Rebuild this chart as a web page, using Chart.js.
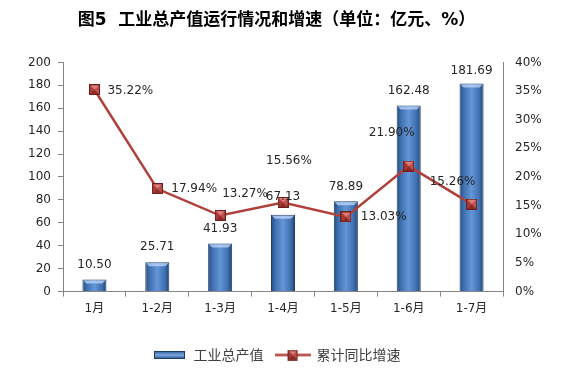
<!DOCTYPE html>
<html>
<head>
<meta charset="utf-8">
<script src="https://cdn.jsdelivr.net/npm/chart.js@4.4.0/dist/chart.umd.min.js"></script>
<style>
  body { margin: 0; background: #fff; }
  #wrap { width: 573px; height: 378px; }
</style>
</head>
<body>
<div id="wrap"><canvas id="myChart" width="573" height="378"></canvas></div>
<script>
'use strict';

// ************ DATA
let months = ['1月', '1-2月', '1-3月', '1-4月', '1-5月', '1-6月', '1-7月'];
let outputValues = [10.50, 25.71, 41.93, 67.13, 78.89, 162.48, 181.69]; // 工业总产值, 亿元
let growthRates = [35.22, 17.94, 13.27, 15.56, 13.03, 21.90, 15.26];   // 累计同比增速, %
let leftTicks = [0, 20, 40, 60, 80, 100, 120, 140, 160, 180, 200];
let rightTicks = [0, 5, 10, 15, 20, 25, 30, 35, 40];

// label placement tweaks (pixels) - the original chart nudged some labels by hand
let barLabelGap = [15, 15, 15, 18, 14, 15, 13];
let lineLabelOffsets = [
  [13, 1, 'left'],
  [14, 0, 'left'],
  [2, -22, 'left'],
  [6, -42, 'center'],
  [15, 0, 'left'],
  [-17, -33, 'center'],
  [-19, -22, 'center']
];

const numFont = "'DejaVu Sans', 'Noto Sans CJK SC', sans-serif";
const cjkFont = "'Noto Sans CJK SC', sans-serif";
const axisGrey = '#868686';
const textColor = '#262626';

const barPct = 0.45;
const catPct = 0.85;

// ************ LITTLE CANVASES FOR MARKERS / LEGEND KEYS

function drawMarker(c, cx, cy, s) {
  let h = s / 2;
  c.fillStyle = '#C0504D';
  c.fillRect(cx - h, cy - h, s, s);
  // pyramid-ish shading
  c.fillStyle = '#E07E79';
  c.beginPath(); c.moveTo(cx - h, cy - h); c.lineTo(cx + h, cy - h); c.lineTo(cx, cy); c.closePath(); c.fill();
  c.fillStyle = '#8E2A26';
  c.beginPath(); c.moveTo(cx - h, cy + h); c.lineTo(cx + h, cy + h); c.lineTo(cx, cy); c.closePath(); c.fill();
  c.fillStyle = '#A53A36';
  c.beginPath(); c.moveTo(cx - h, cy - h); c.lineTo(cx - h, cy + h); c.lineTo(cx, cy); c.closePath(); c.fill();
  c.strokeStyle = '#6E1F1C';
  c.lineWidth = 1;
  c.strokeRect(cx - h + 0.5, cy - h + 0.5, s - 1, s - 1);
}

let markerImg = document.createElement('canvas');
markerImg.width = 11;
markerImg.height = 11;
drawMarker(markerImg.getContext('2d'), 5.5, 5.5, 11);

let barKey = document.createElement('canvas');
barKey.width = 31;
barKey.height = 8;
(function () {
  let c = barKey.getContext('2d');
  let g = c.createLinearGradient(0, 0, 0, 8);
  g.addColorStop(0, '#2C5A92');
  g.addColorStop(0.5, '#79A7E2');
  g.addColorStop(1, '#274F82');
  c.fillStyle = g;
  c.fillRect(0, 0, 31, 8);
  c.strokeStyle = '#1D3C66';
  c.strokeRect(0.5, 0.5, 30, 7);
})();

let lineKey = document.createElement('canvas');
lineKey.width = 36;
lineKey.height = 11;
(function () {
  let c = lineKey.getContext('2d');
  c.strokeStyle = '#B0403B';
  c.lineWidth = 2.5;
  c.beginPath(); c.moveTo(0, 5.5); c.lineTo(36, 5.5); c.stroke();
  drawMarker(c, 18, 5.5, 10);
})();

// ************ PLUGINS

// value labels over bars and next to the points
const valueLabels = {
  id: 'valueLabels',
  afterDatasetsDraw(chart) {
    let ctx = chart.ctx;
    ctx.save();
    ctx.font = '12px ' + numFont;
    ctx.fillStyle = textColor;
    ctx.textBaseline = 'middle';
    let barMeta = chart.getDatasetMeta(1);
    barMeta.data.forEach(function (bar, i) {
      ctx.textAlign = 'center';
      ctx.fillText(outputValues[i].toFixed(2), bar.x, bar.y - barLabelGap[i]);
    });
    let lineMeta = chart.getDatasetMeta(0);
    lineMeta.data.forEach(function (pt, i) {
      let o = lineLabelOffsets[i];
      ctx.textAlign = o[2];
      ctx.fillText(growthRates[i].toFixed(2) + '%', pt.x + o[0], pt.y + o[1]);
    });
    ctx.restore();
  }
};

// light cap on top of each bar
const barCaps = {
  id: 'barCaps',
  afterDatasetDraw(chart, args) {
    if (args.index !== 1) return;
    let ctx = chart.ctx;
    ctx.save();
    args.meta.data.forEach(function (bar) {
      let w = bar.width;
      ctx.fillStyle = 'rgba(190, 215, 250, 0.75)';
      ctx.beginPath();
      ctx.moveTo(bar.x - w / 2 + 1, bar.y + 1);
      ctx.lineTo(bar.x + w / 2 - 1, bar.y + 1);
      ctx.lineTo(bar.x + w / 2 - 4, bar.y + 4);
      ctx.lineTo(bar.x - w / 2 + 4, bar.y + 4);
      ctx.closePath();
      ctx.fill();
    });
    ctx.restore();
  }
};

function barGradient(context) {
  let chart = context.chart;
  if (!chart.chartArea) return '#4F81BD';
  let xScale = chart.scales.x;
  let x = xScale.getPixelForValue(context.dataIndex);
  let half = xScale.width / months.length * barPct * catPct / 2;
  let g = chart.ctx.createLinearGradient(x - half, 0, x + half, 0);
  g.addColorStop(0, '#244C80');
  g.addColorStop(0.18, '#3F70B0');
  g.addColorStop(0.5, '#6495D6');
  g.addColorStop(0.82, '#3F70B0');
  g.addColorStop(1, '#1F4270');
  return g;
}

// ************ CHART

const ctx = document.getElementById('myChart').getContext('2d');

const chartObj = {
  data: {
    labels: months,
    datasets: [
      {
        type: 'line',
        label: '累计同比增速',
        data: growthRates,
        yAxisID: 'y2',
        borderColor: '#B0403B',
        borderWidth: 2.5,
        pointStyle: markerImg,
        order: 0
      },
      {
        type: 'bar',
        label: '工业总产值',
        data: outputValues,
        yAxisID: 'y',
        backgroundColor: barGradient,
        borderColor: '#1F3D66',
        borderWidth: 1,
        barPercentage: barPct,
        categoryPercentage: catPct,
        order: 1
      }
    ]
  },
  options: {
    responsive: false,
    animation: false,
    layout: { padding: { left: 0, right: 20, top: 0, bottom: 6 } },
    plugins: {
      title: {
        display: true,
        text: '图5  工业总产值运行情况和增速（单位：亿元、%）',
        color: '#000',
        font: { family: numFont, size: 17, weight: 'bold' },
        padding: { top: 10, bottom: 32 }
      },
      legend: {
        position: 'bottom',
        labels: {
          usePointStyle: true,
          pointStyleWidth: 34,
          boxHeight: 11,
          padding: 12,
          color: '#404040',
          font: { family: cjkFont, size: 14 },
          generateLabels: function (chart) {
            return [
              { text: '工业总产值', pointStyle: barKey, datasetIndex: 1, fontColor: '#404040', lineWidth: 0, fillStyle: '#4F81BD', strokeStyle: '#4F81BD' },
              { text: '累计同比增速', pointStyle: lineKey, datasetIndex: 0, fontColor: '#404040', lineWidth: 0, fillStyle: '#C0504D', strokeStyle: '#C0504D' }
            ];
          }
        }
      },
      tooltip: { enabled: false }
    },
    scales: {
      x: {
        afterFit: function (scale) { scale.height += 15; },
        grid: { offset: true, drawOnChartArea: false, drawTicks: true, tickLength: 5, color: axisGrey },
        border: { color: axisGrey },
        ticks: { color: textColor, padding: 5, font: { family: numFont, size: 12 } }
      },
      y: {
        position: 'left',
        min: 0,
        max: 200,
        afterBuildTicks: function (scale) {
          scale.ticks = leftTicks.map(function (v) { return { value: v }; });
        },
        afterFit: function (scale) { scale.width = 63; },
        grid: { drawOnChartArea: false, drawTicks: true, tickLength: 5, color: axisGrey },
        border: { color: axisGrey },
        ticks: { color: textColor, padding: 7, font: { family: numFont, size: 12 } }
      },
      y2: {
        position: 'right',
        min: 0,
        max: 40,
        afterBuildTicks: function (scale) {
          scale.ticks = rightTicks.map(function (v) { return { value: v }; });
        },
        afterFit: function (scale) { scale.width = 50; },
        grid: { drawOnChartArea: false, drawTicks: false, color: axisGrey },
        border: { color: axisGrey },
        ticks: {
          color: textColor,
          padding: 12,
          font: { family: numFont, size: 12 },
          callback: function (v) { return v + '%'; }
        }
      }
    }
  },
  plugins: [barCaps, valueLabels]
};

const myChart = new Chart(ctx, chartObj); // eslint-disable-line
</script>
</body>
</html>
